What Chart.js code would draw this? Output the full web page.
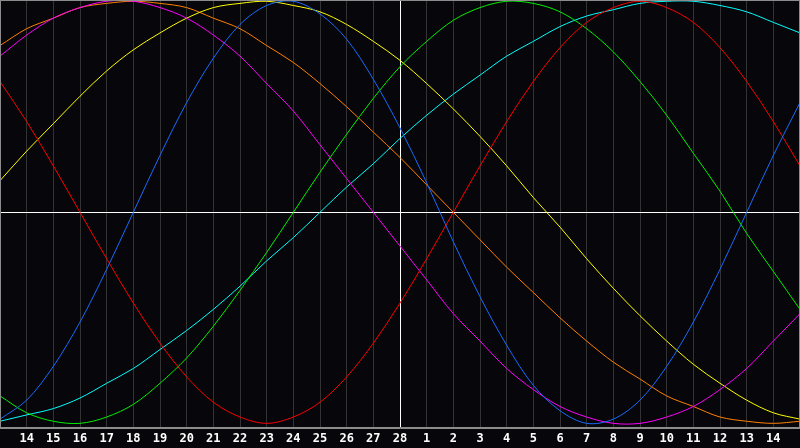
<!DOCTYPE html>
<html>
<head>
<meta charset="utf-8">
<script src="https://cdn.jsdelivr.net/npm/chart.js@4/dist/chart.umd.min.js"></script>
<style>
  html, body { margin: 0; padding: 0; background: #07060a; }
  #wrap { width: 800px; height: 448px; }
</style>
</head>
<body>
<div id="wrap"><canvas id="bioChart" width="800" height="448"></canvas></div>
<script>
// day labels, 13 Feb .. 15 Mar, today = 28
const dayLabels = ['13', '14', '15', '16', '17', '18', '19', '20', '21', '22', '23', '24', '25', '26', '27', '28',
  '1', '2', '3', '4', '5', '6', '7', '8', '9', '10', '11', '12', '13', '14', '15'];
const todayIndex = 15;

// cycle values, one per day
const physical = [-0.98, -0.89, -0.73, -0.52, -0.27, 0, 0.27, 0.52, 0.73, 0.89, 0.98, 1.00, 0.94, 0.82, 0.63, 0.40,
  0.14, -0.14, -0.40, -0.63, -0.82, -0.94, -1.00, -0.98, -0.89, -0.73, -0.52, -0.27, 0, 0.27, 0.52];
const emotional = [0.62, 0.43, 0.22, 0, -0.22, -0.43, -0.62, -0.78, -0.90, -0.97, -1.00, -0.97, -0.90, -0.78, -0.62, -0.43,
  -0.22, 0, 0.22, 0.43, 0.62, 0.78, 0.90, 0.97, 1.00, 0.97, 0.90, 0.78, 0.62, 0.43, 0.22];
const intellectual = [-0.87, -0.95, -0.99, -1.00, -0.97, -0.91, -0.81, -0.69, -0.54, -0.37, -0.19, 0, 0.19, 0.37, 0.54, 0.69,
  0.81, 0.91, 0.97, 1.00, 0.99, 0.95, 0.87, 0.76, 0.62, 0.46, 0.28, 0.10, -0.10, -0.28, -0.46];
const intuitive = [0.74, 0.84, 0.92, 0.97, 1.00, 1.00, 0.97, 0.92, 0.84, 0.74, 0.61, 0.48, 0.32, 0.16, 0, -0.16,
  -0.32, -0.48, -0.61, -0.74, -0.84, -0.92, -0.97, -1.00, -1.00, -0.97, -0.92, -0.84, -0.74, -0.61, -0.48];
const aesthetic = [0.15, 0.29, 0.42, 0.55, 0.67, 0.77, 0.85, 0.92, 0.97, 0.99, 1.00, 0.98, 0.95, 0.89, 0.81, 0.72,
  0.61, 0.49, 0.36, 0.22, 0.07, -0.07, -0.22, -0.36, -0.49, -0.61, -0.72, -0.81, -0.89, -0.95, -0.98];
const awareness = [0.79, 0.87, 0.92, 0.97, 0.99, 1.00, 0.99, 0.97, 0.92, 0.87, 0.79, 0.71, 0.61, 0.50, 0.38, 0.26,
  0.13, 0, -0.13, -0.26, -0.38, -0.50, -0.61, -0.71, -0.79, -0.87, -0.92, -0.97, -0.99, -1.00, -0.99];
const spiritual = [-0.99, -0.96, -0.93, -0.88, -0.81, -0.74, -0.65, -0.56, -0.46, -0.35, -0.23, -0.12, 0, 0.12, 0.23, 0.35,
  0.46, 0.56, 0.65, 0.74, 0.81, 0.88, 0.93, 0.96, 0.99, 1.00, 1.00, 0.98, 0.95, 0.90, 0.85];

const series = [
  { name: 'Physical', data: physical, color: '#1a6cff' },
  { name: 'Emotional', data: emotional, color: '#ff0000' },
  { name: 'Intellectual', data: intellectual, color: '#00f000' },
  { name: 'Intuitive', data: intuitive, color: '#ff00ff' },
  { name: 'Aesthetic', data: aesthetic, color: '#ffff00' },
  { name: 'Awareness', data: awareness, color: '#ff8000' },
  { name: 'Spiritual', data: spiritual, color: '#00ffff' }
];

// grey frame round the plot area
const framePlugin = {
  id: 'frame',
  afterDraw(chart) {
    const { ctx, chartArea: a } = chart;
    ctx.save();
    ctx.strokeStyle = '#8c8c8c';
    ctx.lineWidth = 1;
    ctx.strokeRect(a.left + 0.5, a.top + 0.5, a.right - a.left - 1, a.bottom - a.top - 1);
    ctx.restore();
  }
};

const ctx = document.getElementById('bioChart').getContext('2d');
new Chart(ctx, {
  type: 'line',
  data: {
    labels: dayLabels,
    datasets: series.map(s => ({
      label: s.name,
      data: s.data,
      borderColor: s.color,
      borderWidth: 1,
      pointRadius: 0,
      pointHoverRadius: 0,
      tension: 0.33,
      fill: false
    }))
  },
  options: {
    responsive: false,
    animation: false,
    devicePixelRatio: 1,
    layout: { autoPadding: false, padding: { left: 0, right: 0, top: 0, bottom: -2.4 } },
    plugins: {
      legend: { display: false },
      tooltip: { enabled: false }
    },
    scales: {
      x: {
        type: 'category',
        offset: false,
        // no side margin: the plot runs edge to edge
        afterFit: s => { s.paddingLeft = 0; s.paddingRight = 0; },
        grid: {
          drawTicks: false,
          color: c => (c.index === todayIndex ? '#ffffff' : '#333333')
        },
        border: { display: true, color: '#8c8c8c' },
        ticks: {
          autoSkip: false,
          maxRotation: 0,
          padding: 4,
          color: '#ffffff',
          font: { family: 'DejaVu Sans Mono', size: 12, weight: 'bold' },
          callback: (val, idx) => (idx === 0 || idx === dayLabels.length - 1 ? '' : dayLabels[idx])
        }
      },
      y: {
        min: -1.022,
        max: 1.006,
        afterBuildTicks: scale => { scale.ticks = [{ value: 0 }]; },
        grid: { drawTicks: false, color: '#ffffff' },
        border: { display: false },
        ticks: { display: false }
      }
    }
  },
  plugins: [framePlugin]
});
</script>
</body>
</html>
